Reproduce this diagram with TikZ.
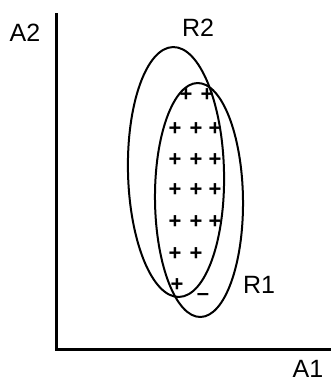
\documentclass[tikz,border=0pt]{standalone}
\usepackage{fontspec}
\setmainfont{Liberation Sans}
\usetikzlibrary{positioning}

\begin{document}
\begin{tikzpicture}[
  x=1pt, y=-1pt,
  axisline/.style={line width=3pt},
  region/.style={line width=2pt},
  lbl/.style={font=\fontsize{25}{28}\selectfont, inner sep=0pt},
  ex/.style={font=\fontsize{22}{24}\selectfont\bfseries, inner sep=0pt},
]
\useasboundingbox (0,0) rectangle (331,384);

% === AXES ===
\coordinate (orig) at (56,349);
\coordinate (ytop) at (56,13);
\coordinate (xend) at (333,349);
\draw[axisline] (ytop) -- (orig) -- (xend);
\node[lbl] (a2) at (25,33) {A2};
\node[lbl] (a1) at (308,369) {A1};

% === REGIONS ===
\draw[region, rotate around={1.4:(176,172)}] (176,172) ellipse [x radius=48, y radius=125];
\draw[region, rotate around={0.7:(199,200)}] (199,200) ellipse [x radius=44, y radius=117];
\node[lbl] (r2) at (198,28) {R2};
\node[lbl] (r1) at (259,285) {R1};

% === EXAMPLES ===
\node[ex] (p11) at (186,95) {+};
\node[ex] (p12) at (207,95) {+};
\foreach \y [count=\i from 2] in {129,160,190,222} {
  \node[ex] (p\i1) at (175,\y) {+};
  \node[ex] (p\i2) at (196,\y) {+};
  \node[ex] (p\i3) at (215,\y) {+};
}
\node[ex] (p61) at (175,254) {+};
\node[ex] (p62) at (196,254) {+};
\node[ex] (p71) at (177,285) {+};
\node[ex] (m1) at (203,297) {--};

\end{tikzpicture}
\end{document}
